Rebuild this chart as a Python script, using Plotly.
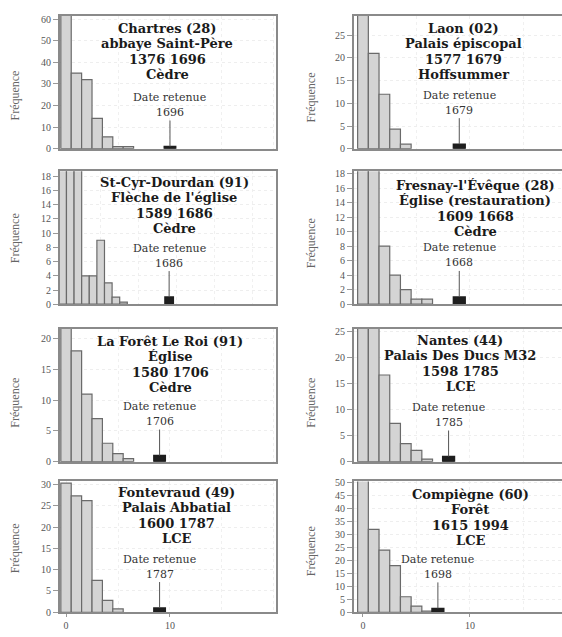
import plotly.graph_objects as go

W, H = 562, 637

# ---------------- data ----------------
titles = [
    ["Chartres (28)", "abbaye Saint-Père", "1376 1696", "Cèdre"],
    ["Laon (02)", "Palais épiscopal", "1577 1679", "Hoffsummer"],
    ["St-Cyr-Dourdan (91)", "Flèche de l'église", "1589 1686", "Cèdre"],
    ["Fresnay-l'Évêque (28)", "Église (restauration)", "1609 1668", "Cèdre"],
    ["La Forêt Le Roi (91)", "Église", "1580 1706", "Cèdre"],
    ["Nantes (44)", "Palais Des Ducs M32", "1598 1785", "LCE"],
    ["Fontevraud (49)", "Palais Abbatial", "1600 1787", "LCE"],
    ["Compiègne (60)", "Forêt", "1615 1994", "LCE"],
]
date_labels = ["1696", "1679", "1686", "1668", "1706", "1785", "1787", "1698"]

counts_chartres = [70, 35, 32, 14, 5.5, 1, 1]
counts_laon = [40, 21, 12, 4.3, 1]
counts_stcyr = [30, 30, 30, 4, 4, 9, 3, 1, 0.3]
counts_fresnay = [25, 25, 8, 4, 2, 0.7, 0.7]
counts_laforet = [25, 18, 11, 7, 3, 1.3, 0.5]
counts_nantes = [30, 30, 16.7, 7.4, 3.5, 2.2, 0.5]
counts_fontevraud = [30.3, 27.3, 26.2, 7.5, 2.8, 0.8]
counts_compiegne = [60, 32, 24, 18, 6, 2.4, 0.5]
all_counts = [counts_chartres, counts_laon, counts_stcyr, counts_fresnay,
              counts_laforet, counts_nantes, counts_fontevraud, counts_compiegne]

retained_bin = [10, 9, 14, 9, 9, 8, 9, 7]
retained_count = [1, 1, 1, 1, 1, 1, 1, 1.5]

y_max = [61.5, 29.3, 18.7, 18.3, 21.6, 25.6, 30.7, 50.5]
y_dtick = [10, 5, 2, 2, 5, 5, 5, 5]
x_tick_vals = [0, 10]
y_title = "Fréquence"

# ---------------- layout geometry (pixels) ----------------
cols = [(60, 276), (354, 562)]
rows = [(12, 147), (170, 305), (330, 465), (485, 618)]
x_ranges = [[-0.58, 20.2], [-0.84, 18.6], [-0.35, 28.05], [-0.84, 18.6],
            [-0.58, 20.2], [-0.84, 18.6], [-0.58, 20.2], [-0.84, 18.6]]
title_cx = [167, 463, 174, 475, 170, 460, 176, 470]
title_top_shift = [0, 0, -2, 1, 0, -1, -2, 0]
title_offsets = [13, 28.5, 44.5, 60]
ytitle_cy = [93, 95, 238, 243, 405, 405, 553, 556]

serif = "Liberation Serif, Times New Roman, serif"
wide_serif = "DejaVu Serif, serif"
fig = go.Figure()
annotations = []
layout = dict(
    width=W, height=H, margin=dict(l=0, r=0, t=0, b=0),
    paper_bgcolor="white", plot_bgcolor="white",
    barmode="overlay", showlegend=False,
)

for i in range(8):
    sfx = "" if i == 0 else str(i + 1)
    col, row = i % 2, i // 2
    (xa, xb), (ya, yb) = cols[col], rows[row]
    counts = all_counts[i]
    bins = list(range(len(counts)))
    fig.add_trace(go.Bar(
        x=bins, y=counts, xaxis="x" + sfx, yaxis="y" + sfx, width=1,
        marker=dict(color="#d4d4d4", line=dict(color="#6a6a6a", width=1.2)),
        hoverinfo="skip"))
    fig.add_trace(go.Bar(
        x=[retained_bin[i]], y=[retained_count[i]], xaxis="x" + sfx, yaxis="y" + sfx,
        width=1.1, marker=dict(color="#1e1e1e", line=dict(color="#1e1e1e", width=1.5)),
        hoverinfo="skip"))

    bottom = row == 3
    layout["xaxis" + sfx] = dict(
        domain=[xa / W, xb / W], anchor="y" + sfx, range=x_ranges[i],
        showline=True, linecolor="#8a8a8a", linewidth=2, mirror=True,
        tickvals=x_tick_vals, showticklabels=bottom,
        ticks="outside" if bottom else "", ticklen=3, tickcolor="#999",
        tickfont=dict(family=serif, size=10, color="#555"),
        showgrid=True, gridcolor="#f0f0f0", griddash="dot",
        minor=dict(dtick=5, showgrid=True, gridcolor="#f0f0f0", griddash="dot"),
        zeroline=False, fixedrange=True)
    layout["yaxis" + sfx] = dict(
        domain=[1 - yb / H, 1 - ya / H], anchor="x" + sfx,
        range=[0, y_max[i]], dtick=y_dtick[i],
        showline=True, linecolor="#8a8a8a", linewidth=2, mirror=(col == 0),
        ticks="outside", ticklen=5, tickcolor="#999",
        tickfont=dict(family=serif, size=10, color="#555"),
        showgrid=True, gridcolor="#eeeeee", griddash="dot",
        zeroline=False, fixedrange=True)

    # title lines
    for k, line in enumerate(titles[i]):
        annotations.append(dict(
            xref="paper", yref="paper", x=title_cx[i] / W,
            y=1 - (ya + title_top_shift[i] + title_offsets[k]) / H,
            text="<b>" + line + "</b>", showarrow=False,
            xanchor="center", yanchor="middle",
            font=dict(family=wide_serif, size=13, color="#1a1a1a")))

    # y axis title
    annotations.append(dict(
        xref="paper", yref="paper",
        x=(15 if col == 0 else 311) / W, y=1 - ytitle_cy[i] / H,
        text=y_title, textangle=-90, showarrow=False,
        xanchor="center", yanchor="middle",
        font=dict(family=serif, size=12, color="#666")))

    # retained date annotation
    annotations.append(dict(
        xref="x" + sfx, yref="y" + sfx, x=retained_bin[i], y=retained_count[i],
        text=date_labels[i], showarrow=True, arrowhead=0, arrowwidth=1,
        arrowcolor="#555", ax=0, ay=-34,
        font=dict(family=wide_serif, size=11, color="#333")))
    annotations.append(dict(
        xref="x" + sfx, yref="y" + sfx, x=retained_bin[i], y=retained_count[i],
        text="Date retenue", showarrow=False, yshift=49,
        font=dict(family=wide_serif, size=11, color="#333")))

layout["annotations"] = annotations
fig.update_layout(**layout)
fig.write_html("out.html", config={"displayModeBar": False},
               post_script="document.body.style.margin='0';document.body.style.overflow='hidden';")
